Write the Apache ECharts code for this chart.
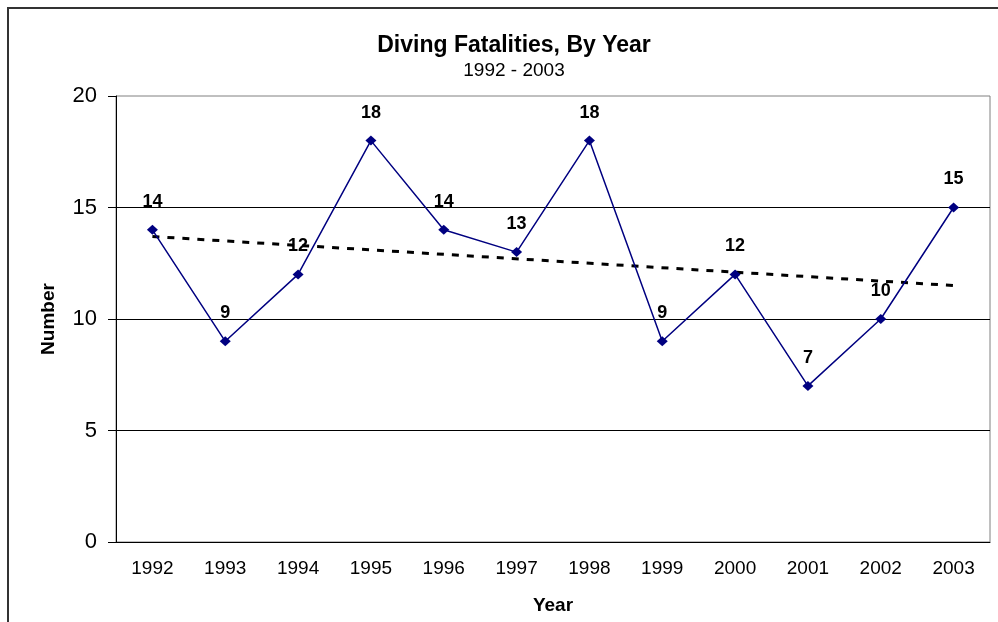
<!DOCTYPE html>
<html>
<head>
<meta charset="utf-8">
<script src="https://cdn.jsdelivr.net/npm/echarts@6/dist/echarts.min.js"></script>
<style>
  html, body { margin: 0; padding: 0; background: #fff; }
  #chart { width: 998px; height: 622px; }
</style>
</head>
<body>
<div id="chart"></div>
<script>
const years = ['1992', '1993', '1994', '1995', '1996', '1997', '1998', '1999', '2000', '2001', '2002', '2003']
const fatalities = [14, 9, 12, 18, 14, 13, 18, 9, 12, 7, 10, 15]
// trend line: value at first and last year
const trendEnds = [13.7, 11.5]
const yTicks = [0, 5, 10, 15, 20]

const trendData = years.map((y, i) => {
  if (i === 0) return trendEnds[0]
  if (i === years.length - 1) return trendEnds[1]
  return null
})

const font = 'Liberation Sans, Arial, sans-serif'
const chart = echarts.init(document.getElementById('chart'))

const option = {
  backgroundColor: '#fff',
  animation: false,
  title: {
    text: 'Diving Fatalities, By Year',
    subtext: '1992 - 2003',
    left: 509,
    top: 29,
    textAlign: 'center',
    itemGap: 4,
    textStyle: { fontFamily: font, fontSize: 23, fontWeight: 'bold', color: '#000' },
    subtextStyle: { fontFamily: font, fontSize: 19, color: '#000' }
  },
  graphic: [
    {
      type: 'rect',
      shape: { x: 8, y: 8, width: 1200, height: 1000 },
      style: { fill: 'none', stroke: '#333', lineWidth: 2 },
      silent: true,
      z: -10
    }
  ],
  grid: {
    left: 116,
    right: 8,
    top: 96,
    bottom: 80,
    show: true,
    borderColor: '#808080',
    borderWidth: 1
  },
  xAxis: {
    type: 'category',
    data: years,
    boundaryGap: true,
    name: 'Year',
    nameLocation: 'middle',
    nameGap: 54,
    nameTextStyle: { fontFamily: font, fontSize: 19, fontWeight: 'bold', color: '#000' },
    axisLine: { lineStyle: { color: '#000', width: 1 } },
    axisTick: { length: 6, interval: 0, lineStyle: { color: '#000' } },
    axisLabel: { interval: 0, margin: 17, fontFamily: font, fontSize: 19, color: '#000' },
    splitLine: { show: false }
  },
  yAxis: {
    type: 'value',
    min: yTicks[0],
    max: yTicks[yTicks.length - 1],
    interval: 5,
    name: 'Number',
    nameLocation: 'middle',
    nameGap: 58,
    nameTextStyle: { fontFamily: font, fontSize: 19, fontWeight: 'bold', color: '#000' },
    axisLine: { show: true, lineStyle: { color: '#000', width: 1 } },
    axisTick: { show: true, length: 8, lineStyle: { color: '#000' } },
    axisLabel: { margin: 19, fontFamily: font, fontSize: 22, color: '#000' },
    splitLine: { show: true, showMaxLine: false, lineStyle: { color: '#000', width: 1 } }
  },
  series: [
    {
      name: 'Trend',
      type: 'line',
      data: trendData,
      connectNulls: true,
      symbol: 'none',
      silent: true,
      z: 1,
      lineStyle: { color: '#000', width: 3, type: [7, 8] }
    },
    {
      name: 'Fatalities',
      type: 'line',
      data: fatalities,
      symbol: 'diamond',
      symbolSize: [11, 10],
      z: 3,
      lineStyle: { color: '#000080', width: 1.5 },
      itemStyle: { color: '#000080' },
      label: {
        show: true,
        position: 'top',
        distance: 14,
        fontFamily: font,
        fontSize: 18,
        fontWeight: 'bold',
        color: '#000'
      }
    }
  ]
}

chart.setOption(option)
</script>
</body>
</html>
